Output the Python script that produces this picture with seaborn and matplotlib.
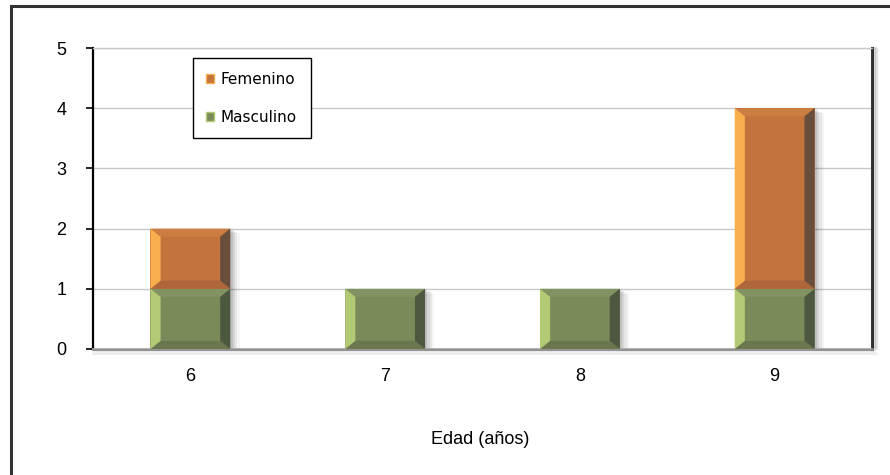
import numpy as np
import pandas as pd
import matplotlib
matplotlib.use("Agg")
import matplotlib.pyplot as plt
from matplotlib.patches import Polygon, Rectangle, Patch
import seaborn as sns

# Number of students by age and sex
edades = ["6", "7", "8", "9"]
masculino = [1, 1, 1, 1]
femenino = [1, 0, 0, 3]
yticks = [0, 1, 2, 3, 4, 5]

ORANGE = "#C3733C"
ORANGE_LIGHT = "#F8AE4C"
ORANGE_DARK = "#6A4E3C"
ORANGE_TOP = "#CB7D42"
ORANGE_BOT = "#AE673B"
GREEN = "#7B8A59"
GREEN_LIGHT = "#B3CA74"
GREEN_DARK = "#4E5841"
GREEN_TOP = "#839262"
GREEN_BOT = "#6A774E"

sns.set_theme(style="white")
plt.rcParams["font.family"] = ["Liberation Sans", "DejaVu Sans"]
plt.rcParams["text.color"] = "black"
plt.rcParams["xtick.color"] = "black"
plt.rcParams["ytick.color"] = "black"

df = pd.DataFrame({
    "edad": edades,
    "masculino": masculino,
    "femenino": femenino,
})
df["total"] = df["masculino"] + df["femenino"]

fig = plt.figure(figsize=(8.9, 4.75), dpi=100)
ax = fig.add_axes([0.1045, 0.2653, 0.8753, 0.6336])

BAR_W = 0.41

# soft drop shadows behind the bars
for i, tot in enumerate(df["total"]):
    for k, a in zip(range(1, 5), [0.10, 0.08, 0.06, 0.04]):
        ax.add_patch(Rectangle((i - BAR_W / 2 + 0.012 * k, 0), BAR_W, tot - 0.02 * k,
                               facecolor="#000000", alpha=a, lw=0, zorder=1.5))

sns.barplot(data=df, x="edad", y="total", color=ORANGE, saturation=1,
            width=BAR_W, linewidth=0, ax=ax, zorder=2)
sns.barplot(data=df, x="edad", y="masculino", color=GREEN, saturation=1,
            width=BAR_W, linewidth=0, ax=ax, zorder=2)


def bevel(x0, x1, y0, y1, light, dark, top, bot):
    bx = 0.052
    by = 0.135
    if y1 - y0 <= 0:
        return
    by = min(by, (y1 - y0) / 2)
    pts = {
        "left": [(x0, y0), (x0, y1), (x0 + bx, y1 - by), (x0 + bx, y0 + by)],
        "right": [(x1, y0), (x1, y1), (x1 - bx, y1 - by), (x1 - bx, y0 + by)],
        "top": [(x0, y1), (x1, y1), (x1 - bx, y1 - by), (x0 + bx, y1 - by)],
        "bot": [(x0, y0), (x1, y0), (x1 - bx, y0 + by), (x0 + bx, y0 + by)],
    }
    for key, col in (("top", top), ("bot", bot), ("left", light), ("right", dark)):
        ax.add_patch(Polygon(pts[key], closed=True, facecolor=col, lw=0, zorder=3))


for i in range(len(edades)):
    x0, x1 = i - BAR_W / 2, i + BAR_W / 2
    m = df["masculino"][i]
    t = df["total"][i]
    bevel(x0, x1, 0, m, GREEN_LIGHT, GREEN_DARK, GREEN_TOP, GREEN_BOT)
    bevel(x0, x1, m, t, ORANGE_LIGHT, ORANGE_DARK, ORANGE_TOP, ORANGE_BOT)

ax.set_xlim(-0.5, len(edades) - 0.5)
ax.set_ylim(0, 5)
ax.set_yticks(yticks)
ax.set_yticklabels([str(v) for v in yticks])
ax.yaxis.grid(True, color="#c8c8c8", lw=1)
ax.set_axisbelow(True)

ax.set_xlabel("")
ax.set_ylabel("")
fig.text(480 / 890, 1 - 440 / 475, "Edad (años)", ha="center", va="center",
         fontsize=13, color="black")
ax.tick_params(axis="y", which="both", left=True, length=5, width=1.2,
               color="black", pad=14, labelsize=13, labelcolor="black")
ax.tick_params(axis="x", bottom=False, pad=8, labelsize=13, labelcolor="black")

ax.spines["left"].set_color("black")
ax.spines["left"].set_linewidth(1.6)
ax.spines["top"].set_color("#c8c8c8")
ax.spines["top"].set_linewidth(1)
ax.spines["right"].set_color("#3a3a3a")
ax.spines["right"].set_linewidth(2.2)
ax.spines["bottom"].set_color("#a8a8a8")
ax.spines["bottom"].set_linewidth(2)

# shading along the right wall and the floor of the plot area
for k, a in zip(range(1, 6), [0.22, 0.16, 0.11, 0.07, 0.04]):
    ax.plot([1.0 + 0.0016 * k] * 2, [0.0, 1.0], transform=ax.transAxes,
            color="black", alpha=a, lw=1.2, clip_on=False, zorder=5)
    ax.plot([0.0, 1.0 + 0.0016 * k], [-0.004 * k] * 2, transform=ax.transAxes,
            color="black", alpha=a * 0.6, lw=1.2, clip_on=False, zorder=5)

handles = [Patch(facecolor=ORANGE, edgecolor=ORANGE_LIGHT, lw=1, label="Femenino"),
           Patch(facecolor=GREEN, edgecolor=GREEN_LIGHT, lw=1, label="Masculino")]
leg = ax.legend(handles=handles, loc="upper left", bbox_to_anchor=(0.128, 0.967),
                frameon=True, fancybox=False, edgecolor="black", framealpha=1,
                prop={"family": "DejaVu Sans", "size": 11},
                handlelength=0.5, handleheight=0.5,
                handletextpad=0.45, labelspacing=1.5, borderpad=0.9,
                borderaxespad=0)
for txt in leg.get_texts():
    txt.set_color("black")
leg.get_frame().set_linewidth(1)
leg.set_zorder(10)

# outer chart frame
fig.add_artist(Rectangle((11 / 890, -0.05), 1.0, 1 - 6 / 475 + 0.05,
                         transform=fig.transFigure, fill=False,
                         edgecolor="#333333", lw=2.2))

fig.savefig("out.png", dpi=100)
